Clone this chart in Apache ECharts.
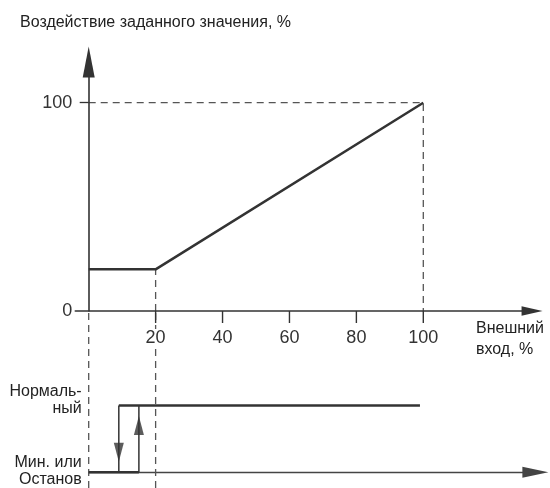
<!DOCTYPE html>
<html>
    <head>
        <meta charset="utf-8">
        <script src="https://cdn.jsdelivr.net/npm/echarts@6/dist/echarts.min.js"></script>
    </head>
    <body style="margin:0">
        <style>
            html, body, #main {
                width: 550px;
                height: 488px;
                background: #fff;
            }
        </style>
        <div id="main"></div>
        <script>
            // upper chart: setpoint effect vs external input
            var xTicks = [20, 40, 60, 80, 100];
            var yTicks = [0, 100];
            var setpoint = [[0, 20], [20, 20], [100, 100]];
            var guide100 = [[0, 100], [100, 100], [100, 0]];
            var guide20 = [[20, 0], [20, 20]];

            // lower chart: run state (0 = min/stop, 1 = normal)
            var stateNames = ['Мин. или\nОстанов', 'Нормаль-\nный'];
            var lowLevel = [[0, 0], [15, 0]];
            var normalLevel = [[9, 1], [99, 1]];
            var switchDown = [[9, 1], [9, 0]];
            var switchUp = [[15, 0], [15, 1]];
            var arrowDown = [[9, 0.3]];
            var arrowUp = [[15, 0.7]];

            // dashed drop lines running through both charts
            var dropLines = [[[0, 0], [0, 1]], [[20, 0], [20, 1]]];

            var ink = '#333';
            var font = 'Liberation Sans, Arial, sans-serif';
            var px = 3.346;   // pixels per x unit
            var py = 2.083;   // pixels per y unit (upper chart)
            var x0 = 88.7;    // pixel of x = 0
            var tickLen = 12 / py; // tick length in y units

            var chart = echarts.init(document.getElementById('main'));

            var dashStyle = { color: '#555', width: 1.3, type: [7, 5] };

            var series = [
                {
                    type: 'line', xAxisIndex: 0, yAxisIndex: 0, z: 1,
                    data: guide100, symbol: 'none', clip: false, silent: true,
                    lineStyle: dashStyle
                },
                {
                    type: 'line', xAxisIndex: 0, yAxisIndex: 0, z: 1,
                    data: guide20, symbol: 'none', clip: false, silent: true,
                    lineStyle: dashStyle
                },
                {
                    type: 'line', xAxisIndex: 0, yAxisIndex: 0, z: 3,
                    data: setpoint, symbol: 'none', clip: false,
                    lineStyle: { color: ink, width: 2.5 }
                }
            ];
            dropLines.forEach(function (seg) {
                series.push({
                    type: 'line', xAxisIndex: 2, yAxisIndex: 2, z: 1,
                    data: seg, symbol: 'none', clip: false, silent: true,
                    lineStyle: dashStyle
                });
            });
            // x tick marks hanging below the upper axis
            xTicks.forEach(function (v) {
                series.push({
                    type: 'line', xAxisIndex: 0, yAxisIndex: 0, z: 8,
                    data: [[v, 0], [v, -tickLen]], symbol: 'none', clip: false, silent: true,
                    lineStyle: { color: ink, width: 1.4 }
                });
            });
            [lowLevel, normalLevel].forEach(function (seg) {
                series.push({
                    type: 'line', xAxisIndex: 1, yAxisIndex: 1, z: 6,
                    data: seg, symbol: 'none', clip: false,
                    lineStyle: { color: ink, width: 2.5 }
                });
            });
            [switchDown, switchUp].forEach(function (seg) {
                series.push({
                    type: 'line', xAxisIndex: 1, yAxisIndex: 1, z: 6,
                    data: seg, symbol: 'none', clip: false,
                    lineStyle: { color: ink, width: 1.5 }
                });
            });
            series.push({
                type: 'scatter', xAxisIndex: 1, yAxisIndex: 1, z: 6,
                data: arrowDown, symbol: 'triangle', symbolSize: [10, 19],
                symbolRotate: 180, itemStyle: { color: ink }
            });
            series.push({
                type: 'scatter', xAxisIndex: 1, yAxisIndex: 1, z: 6,
                data: arrowUp, symbol: 'triangle', symbolSize: [10, 19],
                itemStyle: { color: ink }
            });

            chart.setOption({
                backgroundColor: '#fff',
                animation: false,
                title: [
                    {
                        text: 'Воздействие заданного значения, %',
                        left: 20, top: 15, padding: 0,
                        textStyle: { fontFamily: font, fontSize: 16, fontWeight: 'normal', color: '#222' }
                    },
                    {
                        text: 'Внешний\nвход, %',
                        left: 476, top: 318, padding: 0,
                        textStyle: { fontFamily: font, fontSize: 16, fontWeight: 'normal', color: '#222', lineHeight: 21 }
                    }
                ],
                grid: [
                    { left: x0 - 4 * px, width: 136.5 * px, top: 311 - 119.5 * py, height: 119.5 * py },
                    { left: x0, width: 133.5 * px, top: 476 - 1.2 * 70, height: 1.2 * 70 },
                    { left: x0, width: 133.5 * px, top: 311, height: 177 },
                    // label strip for the upper x axis
                    { left: x0, width: 100 * px, top: 324, height: 1 }
                ],
                xAxis: [
                    {
                        gridIndex: 0, type: 'value', min: -4, max: 132.5, z: 5,
                        splitLine: { show: false },
                        axisLine: {
                            onZero: true, symbol: ['none', 'triangle'], symbolSize: [9.5, 21],
                            lineStyle: { color: ink, width: 1.6 }
                        },
                        axisTick: { show: false },
                        axisLabel: { show: false }
                    },
                    {
                        gridIndex: 1, type: 'value', min: 0, max: 133.5,
                        splitLine: { show: false },
                        axisLine: {
                            symbol: ['none', 'triangle'], symbolSize: [11, 26],
                            lineStyle: { color: '#444', width: 1.3 }
                        },
                        axisTick: { show: false },
                        axisLabel: { show: false }
                    },
                    { gridIndex: 2, type: 'value', min: 0, max: 133.5, show: false },
                    {
                        gridIndex: 3, type: 'value', min: 0, max: 100, interval: 20, z: 5,
                        splitLine: { show: false },
                        axisLine: { show: false },
                        axisTick: { show: false },
                        axisLabel: {
                            showMinLabel: false, margin: 4,
                            fontFamily: font, fontSize: 18, color: '#333',
                            backgroundColor: '#fff', padding: [0, 1]
                        }
                    }
                ],
                yAxis: [
                    {
                        gridIndex: 0, type: 'value', min: 0, max: 119.5, z: 5,
                        splitLine: { show: false },
                        axisLine: {
                            show: true, onZero: true, symbol: ['none', 'triangle'], symbolSize: [12, 31],
                            lineStyle: { color: ink, width: 1.6 }
                        },
                        axisTick: { show: true, customValues: [100], length: 9, lineStyle: { color: ink, width: 1.3 } },
                        axisLabel: {
                            customValues: yTicks, margin: 3,
                            fontFamily: font, fontSize: 18, color: '#333'
                        }
                    },
                    {
                        gridIndex: 1, type: 'value', min: 0, max: 1.2,
                        splitLine: { show: false },
                        axisLine: { show: false },
                        axisTick: { show: false },
                        axisLabel: {
                            customValues: [0.02, 1.08], margin: 7,
                            fontFamily: font, fontSize: 16, color: '#222', lineHeight: 17,
                            formatter: function (v) { return v < 0.5 ? stateNames[0] : stateNames[1]; }
                        }
                    },
                    { gridIndex: 2, type: 'value', min: 0, max: 1, show: false },
                    { gridIndex: 3, type: 'value', min: 0, max: 1, show: false }
                ],
                series: series
            });
        </script>
    </body>
</html>
